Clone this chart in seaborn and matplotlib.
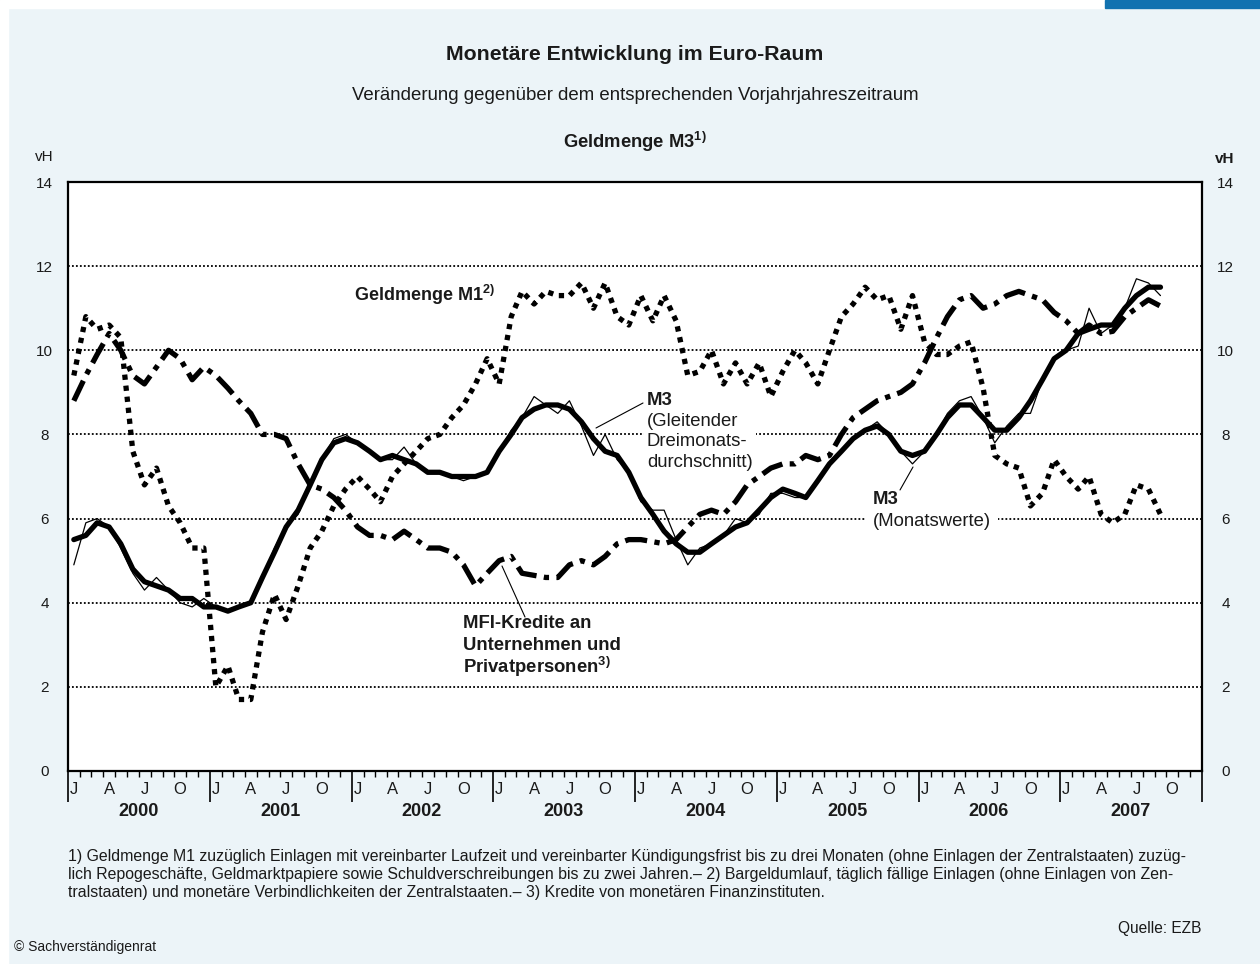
import matplotlib
matplotlib.use("Agg")
import matplotlib.pyplot as plt
import matplotlib.dates as mdates
import matplotlib.transforms as mtransforms
from matplotlib.patches import Rectangle
import numpy as np
import pandas as pd
import seaborn as sns

# monthly values Jan 2000 - Sep 2007 (vH ggü. Vorjahr)
m3_monthly = [4.9, 5.9, 6.0, 5.8, 5.3, 4.7, 4.3, 4.6, 4.3, 4.0, 3.9, 4.1,
              3.9, 3.8, 3.9, 4.0, 4.6, 5.3, 5.8, 6.1, 6.8, 7.4, 7.9, 8.0,
              7.8, 7.6, 7.4, 7.4, 7.7, 7.3, 7.1, 7.1, 7.0, 6.9, 7.0, 7.1,
              7.6, 8.1, 8.4, 8.9, 8.7, 8.5, 8.8, 8.2, 7.5, 8.0, 7.4, 7.1,
              6.4, 6.2, 6.2, 5.5, 4.9, 5.3, 5.4, 5.6, 6.0, 5.9, 6.1, 6.6,
              6.6, 6.5, 6.5, 6.9, 7.3, 7.6, 7.9, 8.1, 8.3, 8.0, 7.6, 7.3,
              7.6, 8.0, 8.5, 8.8, 8.9, 8.4, 7.8, 8.2, 8.5, 8.5, 9.3, 9.8,
              10.0, 10.1, 11.0, 10.4, 10.6, 11.0, 11.7, 11.6, 11.3]

m3_avg = [5.5, 5.6, 5.9, 5.8, 5.4, 4.8, 4.5, 4.4, 4.3, 4.1, 4.1, 3.9,
          3.9, 3.8, 3.9, 4.0, 4.6, 5.2, 5.8, 6.2, 6.8, 7.4, 7.8, 7.9,
          7.8, 7.6, 7.4, 7.5, 7.4, 7.3, 7.1, 7.1, 7.0, 7.0, 7.0, 7.1,
          7.6, 8.0, 8.4, 8.6, 8.7, 8.7, 8.6, 8.3, 7.9, 7.6, 7.5, 7.1,
          6.5, 6.1, 5.7, 5.4, 5.2, 5.2, 5.4, 5.6, 5.8, 5.9, 6.2, 6.5,
          6.7, 6.6, 6.5, 6.9, 7.3, 7.6, 7.9, 8.1, 8.2, 8.0, 7.6, 7.5,
          7.6, 8.0, 8.4, 8.7, 8.7, 8.4, 8.1, 8.1, 8.4, 8.8, 9.3, 9.8,
          10.0, 10.4, 10.5, 10.6, 10.6, 11.0, 11.3, 11.5, 11.5]

m1 = [9.4, 10.8, 10.5, 10.6, 10.3, 7.6, 6.8, 7.2, 6.3, 5.9, 5.3, 5.3,
      2.0, 2.5, 1.7, 1.7, 3.3, 4.2, 3.6, 4.4, 5.3, 5.7, 6.3, 6.7,
      7.0, 6.7, 6.4, 7.0, 7.3, 7.6, 7.9, 8.0, 8.4, 8.7, 9.2, 9.8,
      9.2, 10.8, 11.4, 11.1, 11.4, 11.3, 11.3, 11.6, 11.0, 11.6, 10.8, 10.6,
      11.3, 10.7, 11.3, 10.7, 9.4, 9.5, 10.0, 9.2, 9.7, 9.2, 9.7, 8.9,
      9.5, 10.0, 9.7, 9.2, 10.0, 10.8, 11.1, 11.5, 11.2, 11.3, 10.5, 11.3,
      10.2, 9.9, 9.9, 10.1, 10.2, 9.1, 7.5, 7.3, 7.2, 6.3, 6.6, 7.4,
      7.0, 6.7, 7.0, 6.1, 5.9, 6.1, 6.8, 6.7, 6.1]

mfi = [8.8, 9.4, 9.9, 10.4, 10.0, 9.4, 9.2, 9.6, 10.0, 9.8, 9.3, 9.6,
       9.4, 9.1, 8.8, 8.5, 8.0, 8.0, 7.9, 7.3, 6.8, 6.7, 6.5, 6.2,
       5.8, 5.6, 5.6, 5.5, 5.7, 5.5, 5.3, 5.3, 5.2, 4.9, 4.4, 4.7,
       5.0, 5.1, 4.7, 4.65, 4.6, 4.6, 4.9, 5.0, 4.9, 5.1, 5.4, 5.5,
       5.5, 5.45, 5.4, 5.5, 5.8, 6.1, 6.2, 6.1, 6.4, 6.8, 7.0, 7.2,
       7.3, 7.3, 7.5, 7.4, 7.5, 8.0, 8.4, 8.6, 8.8, 8.9, 9.0, 9.2,
       9.7, 10.3, 10.8, 11.2, 11.3, 11.0, 11.1, 11.3, 11.4, 11.3, 11.2, 10.9,
       10.7, 10.4, 10.6, 10.4, 10.45, 10.8, 11.0, 11.2, 11.05]

years = list(range(2000, 2008))
quarter_letters = ["J", "A", "J", "O"]
y_ticks = list(range(0, 15, 2))

footnote = [
    "1) Geldmenge M1 zuzüglich Einlagen mit vereinbarter Laufzeit und vereinbarter Kündigungsfrist bis zu drei Monaten (ohne Einlagen der Zentralstaaten) zuzüg-",
    "lich Repogeschäfte, Geldmarktpapiere sowie Schuldverschreibungen bis zu zwei Jahren.\u2013 2) Bargeldumlauf, täglich fällige Einlagen (ohne Einlagen von Zen-",
    "tralstaaten) und monetäre Verbindlichkeiten der Zentralstaaten.\u2013 3) Kredite von monetären Finanzinstituten.",
]

dates = pd.date_range("2000-01-01", periods=len(m1), freq="MS") + pd.Timedelta(days=15)
df = pd.DataFrame({"date": dates, "m3_monthly": m3_monthly, "m3_avg": m3_avg,
                   "m1": m1, "mfi": mfi})

sns.set_theme(style="white")
plt.rcParams["font.family"] = ["Liberation Sans", "DejaVu Sans"]
plt.rcParams["mathtext.fontset"] = "custom"
plt.rcParams["mathtext.rm"] = "Liberation Sans"
plt.rcParams["mathtext.default"] = "regular"

W, H = 1260, 964
bg = "#ECF4F8"
ink = "#1a1a1a"
fig = plt.figure(figsize=(W / 100, H / 100), dpi=100, facecolor=bg)

# white frame strips + blue bar at the top
fig.patches.append(Rectangle((0, 1 - 8 / H), 1, 8 / H, transform=fig.transFigure,
                             color="white", zorder=0))
fig.patches.append(Rectangle((0, 0), 8 / W, 1, transform=fig.transFigure,
                             color="white", zorder=0))
fig.patches.append(Rectangle((1105 / W, 1 - 8 / H), 155 / W, 8 / H,
                             transform=fig.transFigure, color="#1172B0", zorder=1))

ax = fig.add_axes([68 / W, 1 - 771 / H, 1134 / W, 589 / H])
ax.set_facecolor("white")

# grid
for v in y_ticks[1:-1]:
    ax.axhline(v, color="black", lw=1.3, ls=(0, (1, 1.2)), zorder=1)

# series
sns.lineplot(data=df, x="date", y="m3_monthly", ax=ax, color="black", lw=0.9, zorder=4)
sns.lineplot(data=df, x="date", y="m3_avg", ax=ax, color="black", lw=3.8,
             solid_joinstyle="round", solid_capstyle="round", zorder=5)
sns.lineplot(data=df, x="date", y="m1", ax=ax, color="black", lw=3.8,
             linestyle=(0, (1, 1.1)), dash_capstyle="butt", zorder=5)
sns.lineplot(data=df, x="date", y="mfi", ax=ax, color="black", lw=3.8,
             linestyle=(0, (4.2, 1.4, 1, 1.4)), dash_capstyle="butt", zorder=5)

# axes
ax.set_xlim(pd.Timestamp("2000-01-01"), pd.Timestamp("2008-01-01"))
ax.set_ylim(0, 14)
ax.set_xlabel("")
ax.set_ylabel("")
ax.xaxis.set_major_locator(mdates.YearLocator())
ax.xaxis.set_minor_locator(mdates.MonthLocator())
ax.tick_params(axis="x", which="major", bottom=True, length=22, width=1.2,
               direction="out", color="black", labelbottom=False)
ax.tick_params(axis="x", which="minor", bottom=True, length=4, width=1,
               direction="out", color="black")
ax.set_yticks(y_ticks)
ax.tick_params(axis="y", left=False, right=False, length=0, labelleft=True,
               labelright=True, labelsize=11, pad=17, labelcolor=ink)
for sp in ax.spines.values():
    sp.set_color("black")
    sp.set_linewidth(1.6)
    sp.set_visible(True)

trans = mtransforms.blended_transform_factory(ax.transData, ax.transAxes)
for yr in years:
    for m, letter in zip([1, 4, 7, 10], quarter_letters):
        ax.text(mdates.date2num(pd.Timestamp(yr, m, 16)), -0.031, letter,
                transform=trans, ha="center", va="center", fontsize=12,
                color=ink)
    ax.text(mdates.date2num(pd.Timestamp(yr, 7, 1)), -0.068, str(yr),
            transform=trans, ha="center", va="center", fontsize=13,
            fontweight="bold", color=ink)


def axfrac(px, py):
    return ((px - 68) / 1134, (771 - py) / 589)


# series labels
ax.text(*axfrac(354, 295), "Geldmenge M1$^{2)}$", transform=ax.transAxes,
        fontsize=13, fontweight="bold", va="center", ha="left", zorder=6,
        color=ink)

ax.text(*axfrac(647, 400), "M3", transform=ax.transAxes, fontsize=13.3,
        fontweight="bold", va="center", ha="left", zorder=6, color=ink)
ax.text(*axfrac(647, 442), "(Gleitender\nDreimonats-\ndurchschnitt)",
        transform=ax.transAxes, fontsize=13.3, va="center", ha="left",
        linespacing=1.3, zorder=3, color=ink,
        bbox=dict(facecolor="white", edgecolor="none", pad=2))
ax.annotate("", xy=axfrac(596, 428), xytext=axfrac(643, 403),
            xycoords="axes fraction", textcoords="axes fraction",
            arrowprops=dict(arrowstyle="-", lw=0.8, color="black",
                            shrinkA=0, shrinkB=0))

ax.text(*axfrac(873, 499), "M3", transform=ax.transAxes, fontsize=13.3,
        fontweight="bold", va="center", ha="left", zorder=6, color=ink)
ax.text(*axfrac(873, 521), "(Monatswerte)", transform=ax.transAxes,
        fontsize=13.3, va="center", ha="left", zorder=3, color=ink,
        bbox=dict(facecolor="white", edgecolor="none", pad=5))
ax.annotate("", xy=axfrac(913, 467), xytext=axfrac(900, 490),
            xycoords="axes fraction", textcoords="axes fraction",
            arrowprops=dict(arrowstyle="-", lw=0.8, color="black",
                            shrinkA=0, shrinkB=0))

for i, line in enumerate(["MFI-Kredite an", "Unternehmen und",
                          "Privatpersonen$^{3)}$"]):
    ax.text(*axfrac(463, 624 + 21.5 * i), line, transform=ax.transAxes,
            fontsize=13.3, fontweight="bold", va="center", ha="left",
            zorder=6, color=ink)
ax.annotate("", xy=axfrac(502, 566), xytext=axfrac(525, 617),
            xycoords="axes fraction", textcoords="axes fraction",
            arrowprops=dict(arrowstyle="-", lw=0.8, color="black",
                            shrinkA=0, shrinkB=0))

# titles and frame texts
fig.text(635 / W, 1 - 54 / H, "Monetäre Entwicklung im Euro-Raum", ha="center",
         va="center", fontsize=15.3, fontweight="bold", color=ink)
fig.text(635 / W, 1 - 95 / H,
         "Veränderung gegenüber dem entsprechenden Vorjahrjahreszeitraum",
         ha="center", va="center", fontsize=13.4, color=ink)
fig.text(635 / W, 1 - 142 / H, "Geldmenge M3$^{1)}$", ha="center", va="center",
         fontsize=13.2, fontweight="bold", color=ink)
fig.text(44 / W, 1 - 157 / H, "vH", ha="center", va="center", fontsize=11,
         color=ink)
fig.text(1225 / W, 1 - 159 / H, "vH", ha="center", va="center", fontsize=11,
         fontweight="bold", color=ink)

for i, line in enumerate(footnote):
    fig.text(68 / W, 1 - (857 + 18 * i) / H, line, ha="left", va="center",
             fontsize=11.4, color=ink)
fig.text(1202 / W, 1 - 928 / H, "Quelle: EZB", ha="right", va="center",
         fontsize=11.2, color=ink)
fig.text(14 / W, 1 - 947 / H, "\u00a9 Sachverständigenrat", ha="left",
         va="center", fontsize=10, color=ink)

for t in ax.yaxis.get_major_ticks():
    t.label1.set_horizontalalignment("center")
    t.label2.set_horizontalalignment("center")

fig.savefig("out.png", dpi=100, facecolor=bg)
